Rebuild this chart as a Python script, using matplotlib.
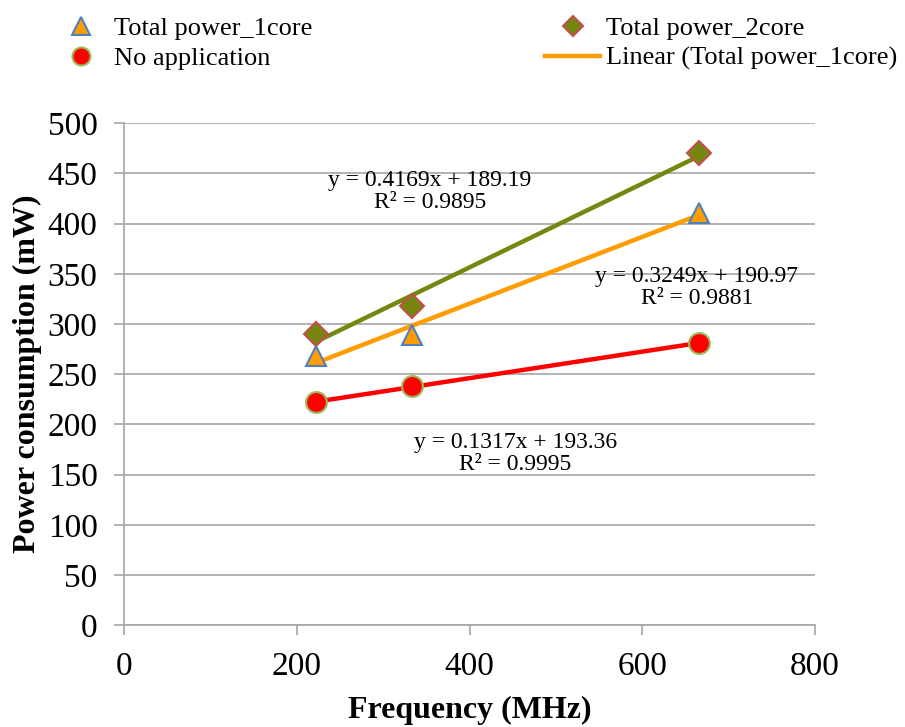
import numpy as np
import matplotlib.pyplot as plt
from matplotlib.lines import Line2D

# datos
freq = [222, 333, 666]
power_1core = [268, 289, 411]
power_2core = [290, 318, 470]
no_app = [222, 238, 281]

eq_1core = "y = 0.3249x + 190.97\nR\u00b2 = 0.9881"
eq_2core = "y = 0.4169x + 189.19\nR\u00b2 = 0.9895"
eq_noapp = "y = 0.1317x + 193.36\nR\u00b2 = 0.9995"

plt.rcParams['font.family'] = ['Liberation Serif', 'DejaVu Serif']

fig = plt.figure(figsize=(9.05, 7.27), dpi=100)
ax = fig.add_axes([0.137, 0.140, 0.7636, 0.6905])

x = np.array(freq)

# lineas de tendencia (ajuste lineal)
def tendencia(y, color):
    m, b = np.polyfit(x, y, 1)
    xs = np.array([x.min(), x.max()])
    ax.plot(xs, m * xs + b, color=color, lw=3.2, zorder=2)

tendencia(power_2core, '#76870F')
tendencia(power_1core, '#FF9C00')
tendencia(no_app, '#FF0000')

ax.plot(freq, power_1core, ls='none', marker='^', ms=15, mfc='#FF9C00', mec='#4F81BD', mew=1.5, zorder=3)
ax.plot(freq, power_2core, ls='none', marker='D', ms=12, mfc='#76870F', mec='#C0504D', mew=1.5, zorder=3)
ax.plot(freq, no_app, ls='none', marker='o', ms=15, mfc='#FF0000', mec='#9BBB59', mew=1.5, zorder=3)

ax.text(354, 432, eq_2core, ha='center', va='center', fontsize=17, linespacing=1.05)
ax.text(663, 336, eq_1core, ha='center', va='center', fontsize=17, linespacing=1.05)
ax.text(453, 171, eq_noapp, ha='center', va='center', fontsize=17, linespacing=1.05)

ax.set_xlim(0, 800)
ax.set_ylim(0, 500)
ax.set_xticks(np.arange(0, 801, 200))
ax.set_yticks(np.arange(0, 501, 50))
ax.grid(axis='y', color='#A6A6A6', lw=1.2)
ax.set_axisbelow(True)
for s in ['top', 'right']:
    ax.spines[s].set_visible(False)
for s in ['left', 'bottom']:
    ax.spines[s].set_color('#A6A6A6')
    ax.spines[s].set_linewidth(1.2)
ax.tick_params(axis='both', labelsize=24, color='#A6A6A6', length=7, width=1.2, direction='out')
ax.tick_params(axis='x', pad=12)
ax.tick_params(axis='y', pad=12)
ax.set_xlabel('Frequency (MHz)', fontsize=23, fontweight='bold', labelpad=10)
ax.set_ylabel('Power consumption (mW)', fontsize=23, fontweight='bold', labelpad=4)

handles = [
    Line2D([], [], ls='none', marker='^', ms=13, mfc='#FF9C00', mec='#4F81BD', mew=1.5),
    Line2D([], [], ls='none', marker='o', ms=13, mfc='#FF0000', mec='#9BBB59', mew=1.5),
    Line2D([], [], ls='none', marker='D', ms=10, mfc='#76870F', mec='#C0504D', mew=1.5),
    Line2D([], [], color='#FF9C00', lw=3.2),
]
labels = ['Total power_1core', 'No application', 'Total power_2core', 'Linear (Total power_1core)']
fig.legend(handles, labels, loc='upper left', bbox_to_anchor=(0.033, 1.01), ncol=2,
           frameon=False, prop={'family': 'Liberation Serif', 'size': 19},
           columnspacing=8.8, handlelength=2.1, handletextpad=0.2, labelspacing=0.25)

fig.savefig('out.png', dpi=100)
